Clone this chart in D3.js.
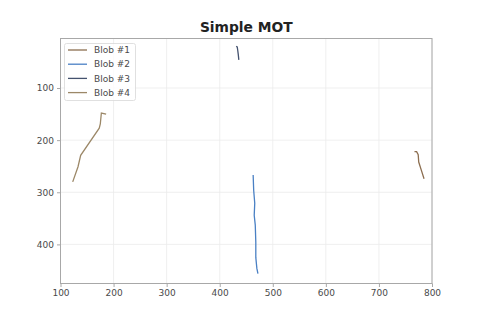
<!DOCTYPE html>
<html>
<head>
<meta charset="utf-8">
<script src="https://cdn.jsdelivr.net/npm/d3@7"></script>
<style>
  body { margin: 0; background: #fff; }
  svg { font-family: "DejaVu Sans", sans-serif; }
</style>
</head>
<body>
<svg width="480" height="320"></svg>
<script>
// tracks, x/y in pixel coords of the video frame
const blobNames = ["Blob #1", "Blob #2", "Blob #3", "Blob #4"];
const blobColors = ["#8c6e50", "#4a80c4", "#44526e", "#9c8868"];

const blob1 = [[767, 222], [771, 222], [774, 228], [775, 242], [780, 258], [785, 274]];
const blob2 = [[463, 267], [464, 296], [466, 321], [465, 344], [467, 363], [468, 396], [468, 425], [470, 446], [472, 456]];
const blob3 = [[431, 20], [433, 21], [434, 28], [435, 36], [436, 46]];
const blob4 = [[186, 150], [177, 148], [175, 169], [173, 177], [138, 229], [133, 251], [123, 280]];
const tracks = [blob1, blob2, blob3, blob4];

const xTicks = [100, 200, 300, 400, 500, 600, 700, 800];
const yTicks = [100, 200, 300, 400];

const svg = d3.select("svg");
const m = { left: 60.5, right: 432, top: 38.5, bottom: 283.5 };

const x = d3.scaleLinear().domain([100, 800]).range([m.left, m.right]);
const y = d3.scaleLinear().domain([5, 475]).range([m.top, m.bottom]);

// grid
svg.append("g").selectAll("line").data(xTicks).join("line")
  .attr("x1", d => x(d)).attr("x2", d => x(d))
  .attr("y1", m.top).attr("y2", m.bottom)
  .attr("stroke", "#ebebeb").attr("stroke-width", 0.8);
svg.append("g").selectAll("line").data(yTicks).join("line")
  .attr("y1", d => y(d)).attr("y2", d => y(d))
  .attr("x1", m.left).attr("x2", m.right)
  .attr("stroke", "#ebebeb").attr("stroke-width", 0.8);

// tracks
const line = d3.line().x(d => x(d[0])).y(d => y(d[1]));
svg.append("g").selectAll("path").data(tracks).join("path")
  .attr("d", line)
  .attr("fill", "none")
  .attr("stroke", (d, i) => blobColors[i])
  .attr("stroke-width", 1.3);

// frame
svg.append("rect")
  .attr("x", m.left).attr("y", m.top)
  .attr("width", m.right - m.left).attr("height", m.bottom - m.top)
  .attr("fill", "none").attr("stroke", "#a8a8a8").attr("stroke-width", 1);

// axes
const xAxis = svg.append("g").attr("transform", `translate(0,${m.bottom})`)
  .call(d3.axisBottom(x).tickValues(xTicks).tickSize(3.5).tickPadding(3));
const yAxis = svg.append("g").attr("transform", `translate(${m.left},0)`)
  .call(d3.axisLeft(y).tickValues(yTicks).tickSize(3.5).tickPadding(3));
[xAxis, yAxis].forEach(a => {
  a.select(".domain").remove();
  a.selectAll("line").attr("stroke", "#a8a8a8");
  a.selectAll("text").attr("fill", "#4a4a4a").style("font-size", "9px")
    .style("font-family", "DejaVu Sans, sans-serif");
});

// title
svg.append("text")
  .attr("x", (m.left + m.right) / 2).attr("y", 32)
  .attr("text-anchor", "middle")
  .style("font-size", "13.8px").style("font-weight", "bold")
  .attr("fill", "#222")
  .text("Simple MOT");

// legend
const lg = svg.append("g");
lg.append("rect")
  .attr("x", 64.5).attr("y", 43.5).attr("width", 71).attr("height", 57).attr("rx", 2)
  .attr("fill", "#fff").attr("fill-opacity", 0.8)
  .attr("stroke", "#d8d8d8").attr("stroke-width", 0.8);
const items = lg.selectAll("g").data(blobNames).join("g")
  .attr("transform", (d, i) => `translate(0,${50 + i * 14.2})`);
items.append("line")
  .attr("x1", 68).attr("x2", 87).attr("y1", 0).attr("y2", 0)
  .attr("stroke", (d, i) => blobColors[i]).attr("stroke-width", 1.3);
items.append("text")
  .attr("x", 94).attr("y", 3.2)
  .style("font-size", "9px").attr("fill", "#4a4a4a")
  .text(d => d);
</script>
</body>
</html>
